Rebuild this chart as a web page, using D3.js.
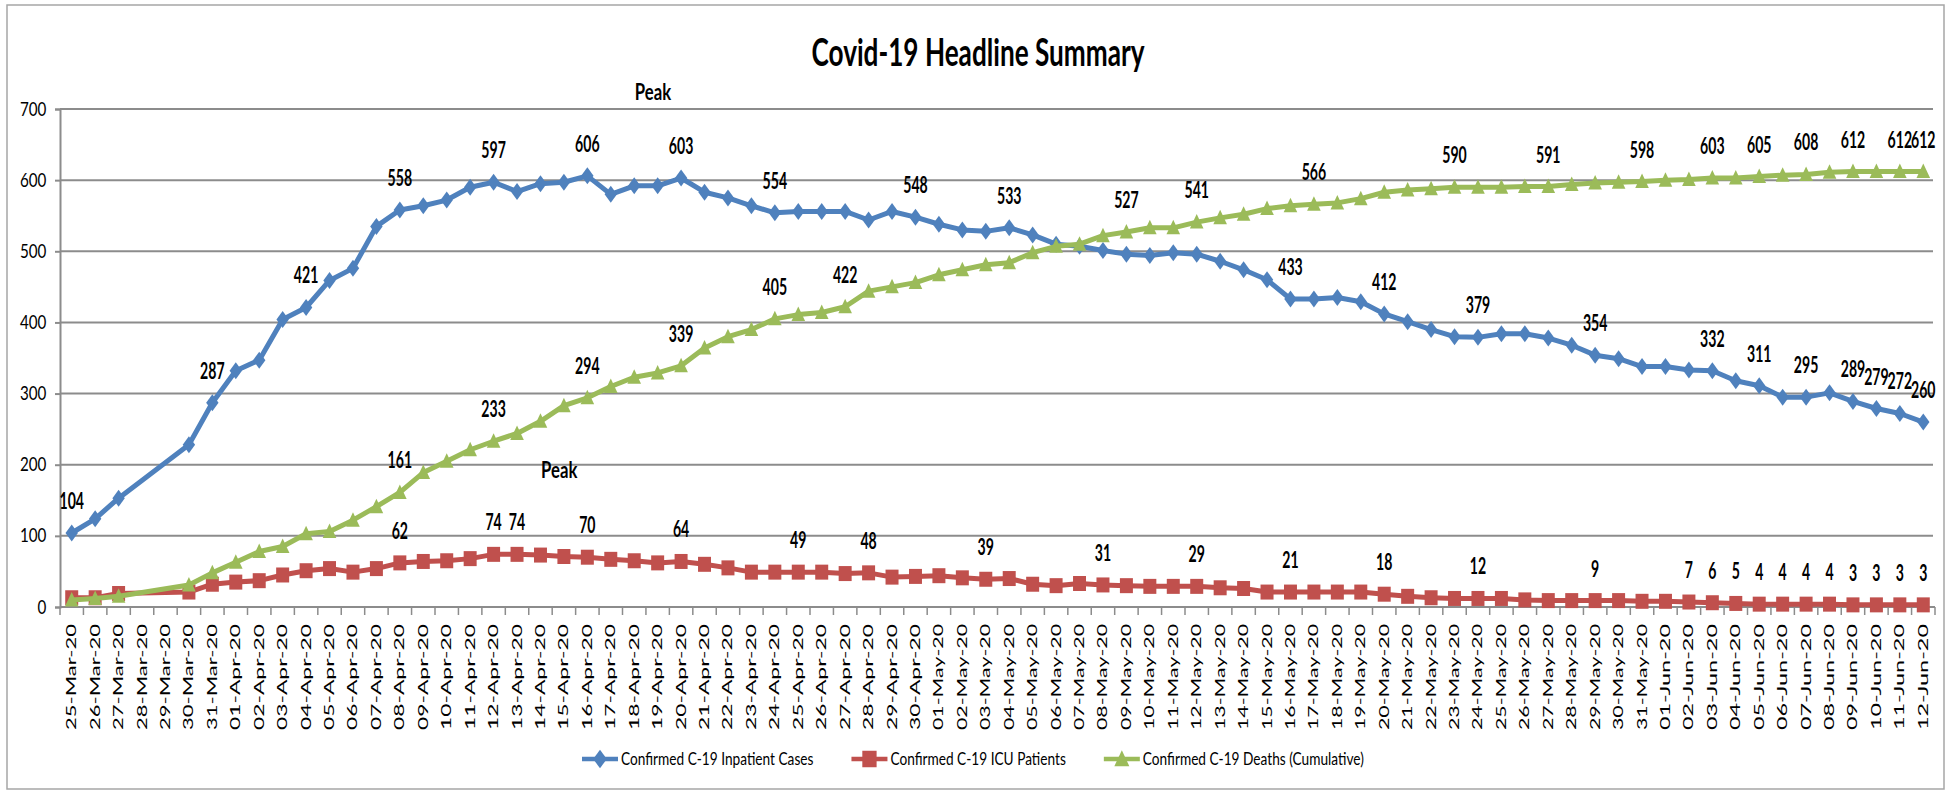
<!DOCTYPE html>
<html>
<head>
<meta charset="utf-8">
<script src="https://cdn.jsdelivr.net/npm/d3@7"></script>
<style>
  body { margin: 0; background: #fff; }
  svg { display: block; font-family: Lato, "Liberation Sans", sans-serif; }
</style>
</head>
<body>
<svg></svg>
<script>
let width = 1953, height = 795;

// categories (one per day, 28/29 Mar have no figures)
const dates = [
  "25-Mar-20","26-Mar-20","27-Mar-20","28-Mar-20","29-Mar-20","30-Mar-20","31-Mar-20",
  "01-Apr-20","02-Apr-20","03-Apr-20","04-Apr-20","05-Apr-20","06-Apr-20","07-Apr-20","08-Apr-20","09-Apr-20","10-Apr-20",
  "11-Apr-20","12-Apr-20","13-Apr-20","14-Apr-20","15-Apr-20","16-Apr-20","17-Apr-20","18-Apr-20","19-Apr-20","20-Apr-20",
  "21-Apr-20","22-Apr-20","23-Apr-20","24-Apr-20","25-Apr-20","26-Apr-20","27-Apr-20","28-Apr-20","29-Apr-20","30-Apr-20",
  "01-May-20","02-May-20","03-May-20","04-May-20","05-May-20","06-May-20","07-May-20","08-May-20","09-May-20","10-May-20",
  "11-May-20","12-May-20","13-May-20","14-May-20","15-May-20","16-May-20","17-May-20","18-May-20","19-May-20","20-May-20",
  "21-May-20","22-May-20","23-May-20","24-May-20","25-May-20","26-May-20","27-May-20","28-May-20","29-May-20","30-May-20",
  "31-May-20","01-Jun-20","02-Jun-20","03-Jun-20","04-Jun-20","05-Jun-20","06-Jun-20","07-Jun-20","08-Jun-20","09-Jun-20",
  "10-Jun-20","11-Jun-20","12-Jun-20"
];

const inpatient = [
  104,124,153,null,null,228,287,332,347,404,
  421,459,476,535,558,564,572,590,597,584,
  595,597,606,580,592,592,603,583,575,564,
  554,556,556,556,544,556,548,538,530,528,
  533,523,510,507,501,496,494,498,496,486,
  474,460,433,433,435,429,412,401,390,380,
  379,384,384,378,368,354,349,338,338,333,
  332,318,311,295,295,301,289,279,272,260
];
const icu = [
  13,13,19,null,null,21,32,35,37,45,
  51,54,49,54,62,64,65,68,74,74,
  73,71,70,67,65,62,64,60,55,49,
  49,49,49,47,48,42,43,44,41,39,
  40,32,30,33,31,30,29,29,29,27,
  26,21,21,21,21,21,18,15,13,12,
  12,12,10,9,9,9,9,8,8,7,
  6,5,4,4,4,4,3,3,3,3
];
const deaths = [
  10,12,15,null,null,31,48,63,78,85,
  103,106,122,141,161,189,205,221,233,244,
  261,283,294,310,323,329,339,364,380,390,
  405,411,414,422,444,450,456,467,474,481,
  484,498,507,510,522,527,533,533,541,547,
  552,560,564,566,568,574,583,586,588,590,
  590,590,591,591,594,596,597,598,600,601,
  603,603,605,607,608,611,612,612,612,612
];

// which points carry a value label
const inpatientLabelAt = [0,6,10,14,18,22,26,30,36,40,52,56,60,65,70,72,74,76,77,78,79];
const icuLabelAt = [14,18,19,22,26,31,34,39,44,48,52,56,60,65,69,70,71,72,73,74,75,76,77,78,79];
const deathsLabelAt = [14,18,22,26,30,33,45,48,53,59,63,67,70,72,74,76,78,79];

const yTicks = [0, 100, 200, 300, 400, 500, 600, 700];
const seriesNames = ["Confirmed C-19 Inpatient Cases", "Confirmed C-19 ICU Patients", "Confirmed C-19 Deaths (Cumulative)"];
const seriesColors = ["#4F81BD", "#C0504D", "#9BBB59"];
const peakNotes = [{date: "19-Apr-20", value: 712}, {date: "15-Apr-20", value: 181}];

// marker shapes (diamond, square, triangle), a little taller than wide like the source
const markerPaths = [
  "M0,-8.5L6.2,0L0,8.5L-6.2,0Z",
  "M-6.5,-7.5H6.5V7.5H-6.5Z",
  "M0,-8L6.8,6.5H-6.8Z"
];

let svg = d3.select("svg")
  .attr("width", width)
  .attr("height", height);

svg.append("rect")
  .attr("x", 7).attr("y", 5)
  .attr("width", 1937).attr("height", 784)
  .attr("fill", "#fff")
  .attr("stroke", "#a6a6a6")
  .attr("stroke-width", 1.5);

let x = d3.scaleBand().domain(dates).range([60, 1935]);
let y = d3.scaleLinear().domain([0, 700]).range([607, 109]);
let cx = d => x(d) + x.bandwidth() / 2;

// title
svg.append("text")
  .attr("x", 978).attr("y", 66)
  .attr("text-anchor", "middle")
  .attr("font-size", 38)
  .attr("font-weight", "bold")
  .attr("textLength", 333)
  .attr("lengthAdjust", "spacingAndGlyphs")
  .text("Covid-19 Headline Summary");

// gridlines
svg.append("g")
  .selectAll("line")
  .data(yTicks.filter(d => d > 0))
  .join("line")
  .attr("x1", 60).attr("x2", 1933)
  .attr("y1", d => y(d)).attr("y2", d => y(d))
  .attr("stroke", "#8c8c8c")
  .attr("stroke-width", 2);

// y axis
let yAxis = svg.append("g")
  .attr("transform", "translate(60,0)")
  .call(d3.axisLeft(y).tickValues(yTicks).tickSize(5).tickPadding(8));
yAxis.select(".domain").attr("stroke", "#8c8c8c").attr("stroke-width", 2);
yAxis.selectAll(".tick line").attr("stroke", "#8c8c8c").attr("stroke-width", 2);
yAxis.selectAll(".tick text")
  .attr("font-size", 19)
  .attr("font-family", "Lato")
  .attr("fill", "#000")
  .attr("x", -17)
  .attr("transform", "scale(0.8,1)");

// x axis line + tick marks between categories
svg.append("line")
  .attr("x1", 60).attr("x2", 1935)
  .attr("y1", y(0)).attr("y2", y(0))
  .attr("stroke", "#8c8c8c").attr("stroke-width", 2);

svg.append("g")
  .selectAll("line")
  .data(dates.concat([null]))
  .join("line")
  .attr("x1", d => d ? x(d) : x.range()[1])
  .attr("x2", d => d ? x(d) : x.range()[1])
  .attr("y1", y(0)).attr("y2", y(0) + 8)
  .attr("stroke", "#8c8c8c").attr("stroke-width", 1.5);

svg.append("g")
  .selectAll("text")
  .data(dates)
  .join("text")
  .attr("transform", d => "translate(" + (cx(d) + 4.5) + ",624) rotate(-90)")
  .attr("text-anchor", "end")
  .attr("font-size", 13)
  .attr("textLength", 106)
  .attr("lengthAdjust", "spacingAndGlyphs")
  .text(d => d);

// series
let allSeries = [inpatient, icu, deaths];
let allLabels = [inpatientLabelAt, icuLabelAt, deathsLabelAt];

let line = d3.line()
  .x(p => cx(p.date))
  .y(p => y(p.value));

allSeries.forEach((values, s) => {
  let pts = dates.map((d, i) => ({date: d, value: values[i]}))
    .filter(p => p.value != null);
  let g = svg.append("g");
  g.append("path")
    .datum(pts)
    .attr("d", line)
    .attr("fill", "none")
    .attr("stroke", seriesColors[s])
    .attr("stroke-width", 5)
    .attr("stroke-linejoin", "round");
  g.selectAll("path.mark")
    .data(pts)
    .join("path")
    .attr("class", "mark")
    .attr("d", markerPaths[s])
    .attr("transform", p => "translate(" + cx(p.date) + "," + y(p.value) + ")")
    .attr("fill", seriesColors[s]);
});

// value labels
allSeries.forEach((values, s) => {
  svg.append("g")
    .selectAll("text")
    .data(allLabels[s])
    .join("text")
    .attr("transform", i => "translate(" + cx(dates[i]) + "," + (y(values[i]) - 24) + ") scale(0.64,1)")
    .attr("text-anchor", "middle")
    .attr("font-size", 22)
    .attr("font-weight", "bold")
    .attr("fill", "#000")
    .text(i => values[i]);
});

// "Peak" notes
svg.append("g")
  .selectAll("text")
  .data(peakNotes)
  .join("text")
  .attr("transform", d => "translate(" + (x(d.date) + 7) + "," + y(d.value) + ") scale(0.76,1)")
  .attr("text-anchor", "middle")
  .attr("font-size", 22)
  .attr("font-weight", "bold")
  .text("Peak");

// legend
let legend = svg.append("g");
let lx = 582, ly = 759, sx = 0.76;
seriesNames.forEach((name, s) => {
  let item = legend.append("g").attr("transform", "translate(" + lx + "," + ly + ")");
  item.append("line")
    .attr("x1", 0).attr("x2", 36)
    .attr("stroke", seriesColors[s]).attr("stroke-width", 4.5);
  item.append("path")
    .attr("d", markerPaths[s])
    .attr("transform", "translate(18,0) scale(1.1)")
    .attr("fill", seriesColors[s]);
  let t = item.append("text")
    .attr("transform", "translate(39,6) scale(" + sx + ",1)")
    .attr("font-size", 18)
    .text(name);
  lx += 39 + t.node().getComputedTextLength() * sx + 38;
});
</script>
</body>
</html>
